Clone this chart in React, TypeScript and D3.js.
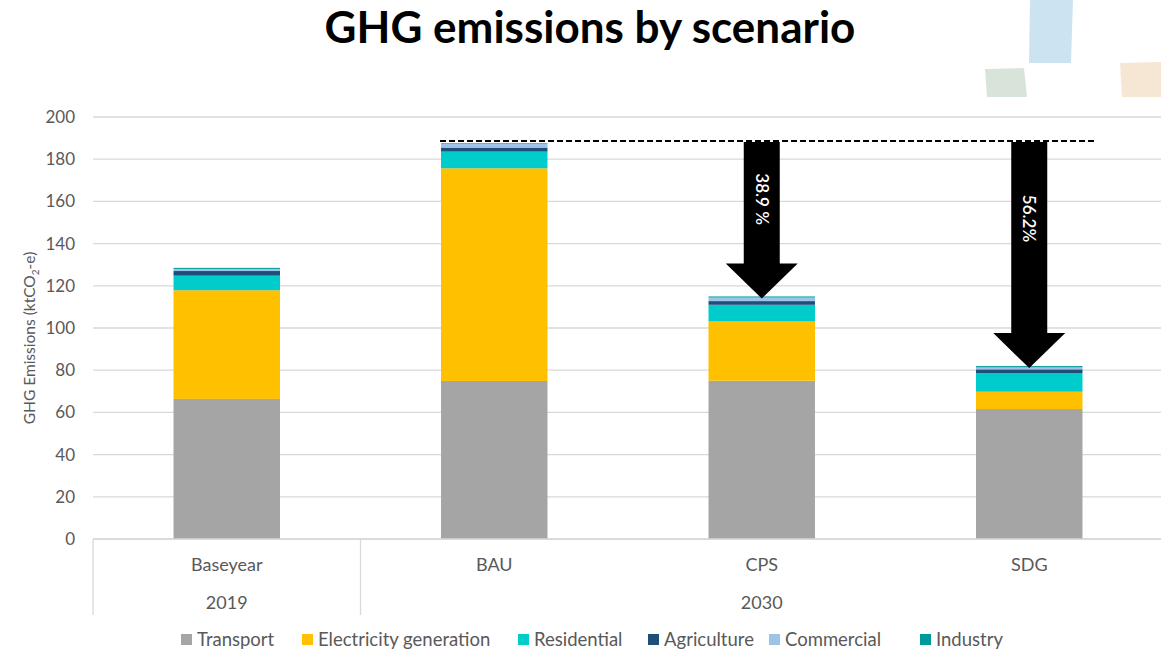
// Stacked GHG emissions by scenario, with BAU reference line and
// reduction arrows pointing down to the CPS / SDG totals.
import React from 'react';
import * as d3 from 'd3';

const W = 1161;
const H = 652;

const scenarios = ['Baseyear', 'BAU', 'CPS', 'SDG'];
const yearLabels = ['2019', '2030'];
const yearSpans = [1, 3];

const sectors = ['Transport', 'Electricity generation', 'Residential', 'Agriculture', 'Commercial', 'Industry'];
const sectorColors = ['#a5a5a5', '#ffc000', '#00cccc', '#1f4e79', '#9dc3e6', '#009999'];

const transport = [66.4, 74.9, 75.0, 61.6];
const electricity = [51.5, 100.8, 28.1, 8.2];
const residential = [6.9, 7.9, 7.9, 8.7];
const agriculture = [2.2, 1.9, 1.75, 1.9];
const commercial = [1.0, 1.75, 1.7, 0.95];
const industry = [0.5, 0.3, 0.5, 0.6];

const yTicks = [0, 20, 40, 60, 80, 100, 120, 140, 160, 180, 200];

// BAU reference level and the reductions annotated against it
const bauReference = 188.6;
const reductionScenarios = ['CPS', 'SDG'];
const reductionLabels = ['38.9 %', '56.2%'];

const FONT = 'Lato, "Open Sans", sans-serif';
const TEXT = '#595959';
const GRID = '#d9d9d9';

const PLOT_LEFT = 93;
const PLOT_RIGHT = 1163;
const PLOT_TOP = 117;
const PLOT_BOTTOM = 539;

export default function App() {
  const series = [transport, electricity, residential, agriculture, commercial, industry];
  const rows = scenarios.map((s, i) => {
    const r: Record<string, any> = { scenario: s };
    sectors.forEach((k, j) => (r[k] = series[j][i]));
    return r;
  });
  const stacked = d3.stack().keys(sectors)(rows as any);

  const x = d3.scaleBand().domain(scenarios).range([PLOT_LEFT, PLOT_RIGHT]).padding(0);
  const y = d3.scaleLinear().domain([0, 200]).range([PLOT_BOTTOM, PLOT_TOP]);
  const barW = x.bandwidth() * 0.398;
  const cx = (s: string) => (x(s) as number) + x.bandwidth() / 2;

  const totals = scenarios.map((_, i) => d3.sum(series, (arr) => arr[i]));

  // year group spans on the second category row
  let acc = 0;
  const groups = yearLabels.map((label, i) => {
    const members = scenarios.slice(acc, acc + yearSpans[i]);
    acc += yearSpans[i];
    const x0 = x(members[0]) as number;
    const mid = (cx(members[0]) + cx(members[members.length - 1])) / 2;
    return { label, x0, mid };
  });

  const refY = y(bauReference);
  const refX1 = cx('BAU') - barW / 2 - 1;
  const refX2 = cx('SDG') + barW / 2 + 14;

  const shaftW = 36;
  const headW = 72;
  const headLen = 35;

  const legendStarts = [181, 302, 518, 648, 769, 920];

  return (
    <svg width={W} height={H} style={{ position: 'absolute', left: 0, top: 0, background: '#fff' }} fontFamily={FONT}>
      {/* decorative corner shapes */}
      <polygon points="1030,0 1073,0 1071,63 1029,63" fill="#cce4f1" />
      <polygon points="985,69 1024,68 1027,97 987,97" fill="#d8e4da" />
      <polygon points="1120,63 1161,62 1161,97 1122,97" fill="#f6e7d4" />

      <text x={590} y={43} textAnchor="middle" fontSize={44} fontWeight="bold" fill="#000">
        GHG emissions by scenario
      </text>

      {/* gridlines */}
      {yTicks.map((t) => (
        <line key={t} x1={PLOT_LEFT} x2={W} y1={y(t)} y2={y(t)} stroke={GRID} strokeWidth={1.3} />
      ))}
      {yTicks.map((t) => (
        <text key={'l' + t} x={75} y={y(t)} dy="0.35em" textAnchor="end" fontSize={17} fill={TEXT}>
          {t}
        </text>
      ))}

      <text transform={`translate(35,${(PLOT_TOP + PLOT_BOTTOM) / 2 + 10}) rotate(-90)`} textAnchor="middle" fontSize={15.5} fill={TEXT}>
        GHG Emissions (ktCO<tspan fontSize={10} dy={4}>2</tspan>
        <tspan dy={-4}>-e)</tspan>
      </text>

      {/* stacked bars */}
      {stacked.map((layer, j) => (
        <g key={sectors[j]} fill={sectorColors[j]}>
          {layer.map((d, i) => (
            <rect
              key={i}
              x={cx(scenarios[i]) - barW / 2}
              width={barW}
              y={y(d[1])}
              height={Math.max(0, y(d[0]) - y(d[1]))}
            />
          ))}
        </g>
      ))}

      {/* category axis */}
      <line x1={PLOT_LEFT} x2={W} y1={PLOT_BOTTOM} y2={PLOT_BOTTOM} stroke={GRID} strokeWidth={1.3} />
      {groups.map((g) => (
        <line key={'v' + g.label} x1={g.x0} x2={g.x0} y1={PLOT_BOTTOM} y2={615} stroke={GRID} strokeWidth={1.3} />
      ))}
      {scenarios.map((s) => (
        <text key={s} x={cx(s)} y={565} dy="0.35em" textAnchor="middle" fontSize={18} fill={TEXT}>
          {s}
        </text>
      ))}
      {groups.map((g) => (
        <text key={g.label} x={g.mid} y={603} dy="0.35em" textAnchor="middle" fontSize={18} fill={TEXT}>
          {g.label}
        </text>
      ))}

      {/* BAU reference */}
      <line x1={refX1} x2={refX2} y1={refY} y2={refY} stroke="#000" strokeWidth={2} strokeDasharray="6,3" />

      {/* reduction arrows */}
      {reductionScenarios.map((s, k) => {
        const c = cx(s);
        const tip = y(totals[scenarios.indexOf(s)]) + 2;
        const top = refY + 1;
        const headTop = tip - headLen;
        const pts = [
          [c - shaftW / 2, top],
          [c + shaftW / 2, top],
          [c + shaftW / 2, headTop],
          [c + headW / 2, headTop],
          [c, tip],
          [c - headW / 2, headTop],
          [c - shaftW / 2, headTop],
        ];
        const mid = top + (headTop - top) * (k === 0 ? 0.47 : 0.4);
        return (
          <g key={s}>
            <polygon points={pts.map((p) => p.join(',')).join(' ')} fill="#000" />
            <text transform={`translate(${c},${mid}) rotate(90)`} textAnchor="middle" dy="0.35em" fontSize={17} fontWeight={600} fill="#fff">
              {reductionLabels[k]}
            </text>
          </g>
        );
      })}

      {/* legend */}
      {sectors.map((s, j) => (
        <g key={s} transform={`translate(${legendStarts[j]},640)`}>
          <rect x={0} y={-6} width={11} height={11} fill={sectorColors[j]} />
          <text x={16} y={0} dy="0.35em" fontSize={18.5} fill={TEXT}>
            {s}
          </text>
        </g>
      ))}
    </svg>
  );
}
